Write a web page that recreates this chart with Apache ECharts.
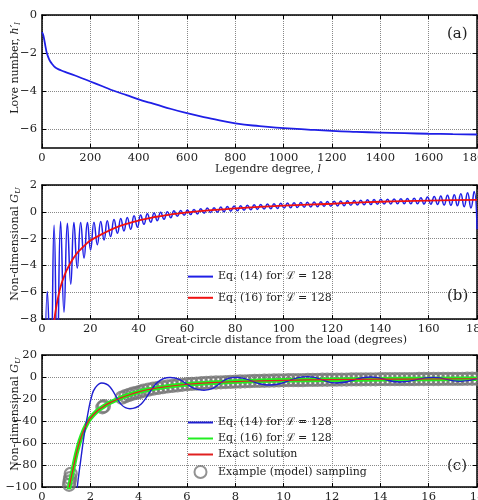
<!DOCTYPE html>
<html>
<head>
<meta charset="utf-8">
<script src="https://cdn.jsdelivr.net/npm/echarts@6/dist/echarts.min.js"></script>
<style>
  html, body { margin: 0; padding: 0; background: #fff; }
  #chart { width: 478px; height: 500px; }
</style>
</head>
<body>
<div id="chart"></div>
<script>
// (a) load Love number against Legendre degree
const loveDegree = [0, 5, 10, 15, 20, 30, 40, 50, 60, 80, 100, 150, 200, 250, 300, 350, 400, 450, 500, 600, 700, 800, 900, 1000, 1100, 1200, 1300, 1400, 1500, 1600, 1700, 1800]
const loveNumber = [-0.9, -1.05, -1.35, -1.7, -2.0, -2.35, -2.55, -2.7, -2.8, -2.92, -3.02, -3.25, -3.5, -3.75, -4.0, -4.22, -4.44, -4.63, -4.82, -5.17, -5.45, -5.7, -5.85, -5.95, -6.03, -6.1, -6.15, -6.19, -6.22, -6.25, -6.27, -6.29]

// (b) Green's function, truncated sum (peaks and troughs) and closed form
const bEq14 = [
  [1.2, -14], [2.2, -5.95], [3.6, -12], [5.0, -1.0], [6.3, -11.5], [7.7, -0.72], [9.1, -7.5],
  [10.5, -0.85], [11.9, -5.4], [13.2, -0.8], [14.6, -4.2], [16.0, -0.8], [17.4, -3.45],
  [18.8, -0.8], [20.1, -2.85], [21.5, -0.78], [22.9, -2.45], [24.3, -0.73], [25.7, -2.1],
  [27.0, -0.66], [28.4, -1.85], [29.8, -0.58], [31.2, -1.6], [32.6, -0.5], [33.9, -1.43],
  [35.3, -0.42], [36.7, -1.3], [38.1, -0.3], [39.5, -1.15], [40.8, -0.23], [42.2, -0.93],
  [43.6, -0.15], [45.0, -0.78], [46.4, -0.09], [47.7, -0.66], [49.1, -0.04], [50.5, -0.55],
  [51.9, 0.01], [53.3, -0.44], [54.6, 0.07], [56.0, -0.34], [57.4, 0.1], [58.8, -0.26],
  [60.2, 0.13], [61.5, -0.21], [62.9, 0.17], [64.3, -0.16], [65.7, 0.23], [67.1, -0.11],
  [68.4, 0.28], [69.8, -0.06], [71.2, 0.31], [72.6, -0.03], [74.0, 0.35], [75.3, 0.01],
  [76.7, 0.39], [78.1, 0.05], [79.5, 0.43], [80.9, 0.08], [82.2, 0.46], [83.6, 0.12],
  [85.0, 0.49], [86.4, 0.15], [87.8, 0.52], [89.1, 0.18], [90.5, 0.55], [91.9, 0.2],
  [93.3, 0.58], [94.7, 0.23], [96.0, 0.6], [97.4, 0.25], [98.8, 0.63], [100.2, 0.28],
  [101.6, 0.65], [102.9, 0.3], [104.3, 0.67], [105.7, 0.32], [107.1, 0.69], [108.5, 0.34],
  [109.8, 0.71], [111.2, 0.36], [112.6, 0.73], [114.0, 0.38], [115.4, 0.75], [116.7, 0.4],
  [118.1, 0.77], [119.5, 0.42], [120.9, 0.79], [122.3, 0.44], [123.6, 0.81], [125.0, 0.46],
  [126.4, 0.83], [127.8, 0.48], [129.2, 0.85], [130.5, 0.5], [131.9, 0.87], [133.3, 0.52],
  [134.7, 0.89], [136.1, 0.54], [137.4, 0.91], [138.8, 0.56], [140.2, 0.93], [141.6, 0.58],
  [143.0, 0.94], [144.3, 0.58], [145.7, 0.96], [147.1, 0.6], [148.5, 0.98], [149.9, 0.6],
  [151.2, 1.0], [152.6, 0.6], [154.0, 1.02], [155.4, 0.6], [156.8, 1.05], [158.1, 0.58],
  [159.5, 1.1], [160.9, 0.57], [162.3, 1.14], [163.7, 0.55], [165.0, 1.18], [166.4, 0.51],
  [167.8, 1.23], [169.2, 0.48], [170.6, 1.28], [171.9, 0.45], [173.3, 1.34], [174.7, 0.38],
  [176.1, 1.43], [177.5, 0.29], [178.8, 1.51], [180, -1.3]
]
const bEq16 = [
  [4.5, -9.3], [5, -8.2], [6, -7.0], [7, -6.1], [8, -5.4], [9, -4.9], [10, -4.45], [12, -3.75],
  [14, -3.2], [16, -2.8], [18, -2.45], [20, -2.15], [25, -1.65], [30, -1.22], [35, -0.9],
  [40, -0.65], [45, -0.45], [50, -0.3], [55, -0.16], [60, -0.05], [70, 0.12], [80, 0.25],
  [90, 0.37], [100, 0.46], [110, 0.53], [120, 0.6], [130, 0.68], [140, 0.75], [150, 0.8],
  [160, 0.84], [170, 0.87], [180, 0.89]
]

// (c) close to the load
const cEq14 = [
  [1.3, -135], [1.45, -102], [1.6, -76], [1.75, -52], [1.9, -33], [2.05, -18], [2.2, -10],
  [2.47, -5.5], [3.64, -28.8], [5.3, -0.5], [6.7, -12], [8.0, -0.3], [9.4, -7.3], [11.0, 0.3],
  [12.2, -5.5], [13.6, 0], [14.8, -4.5], [16.2, -0.3], [17.3, -4], [18, -1.5]
]
const cExact = [
  [1.1, -104], [1.13, -100], [1.3, -82], [1.5, -63], [1.7, -50], [1.85, -43], [2.0, -37.5],
  [2.33, -30], [2.5, -27.5], [2.8, -23.5], [3.16, -20], [3.5, -17], [4.0, -13.5], [4.5, -11],
  [5, -9.2], [6, -6.6], [7, -5.2], [8, -4.2], [9, -3.5], [10, -3.0], [12, -2.4], [14, -2.0],
  [16, -1.8], [18, -1.6]
]
const cSample = [
  [1.12, -98], [1.14, -95], [1.16, -92], [1.19, -88], [2.5, -27.5], [2.56, -26.6],
  [3.3, -18.8], [3.45, -17.5], [3.6, -16.3], [3.75, -15.2], [3.9, -14.4], [4.05, -13.5],
  [4.2, -12.4], [4.4, -11.5], [4.6, -10.6], [4.8, -9.9], [5.0, -9.2], [5.2, -8.6], [5.4, -8.1],
  [5.6, -7.6], [5.8, -7.1], [6.0, -6.6], [6.2, -6.3], [6.4, -6.0], [6.6, -5.7], [6.8, -5.4],
  [7.0, -5.2], [7.2, -5.0], [7.4, -4.8], [7.6, -4.6], [7.8, -4.4], [8.0, -4.2], [8.2, -4.1],
  [8.4, -3.9], [8.6, -3.8], [8.8, -3.6], [9.0, -3.5], [9.2, -3.4], [9.4, -3.3], [9.6, -3.2],
  [9.8, -3.1], [10.0, -3.0], [10.2, -2.9], [10.4, -2.9], [10.6, -2.8], [10.8, -2.8], [11.0, -2.7],
  [11.2, -2.7], [11.4, -2.6], [11.6, -2.5], [11.8, -2.5], [12.0, -2.4], [12.2, -2.4], [12.4, -2.3],
  [12.6, -2.3], [12.8, -2.2], [13.0, -2.2], [13.2, -2.2], [13.4, -2.1], [13.6, -2.1], [13.8, -2.1],
  [14.0, -2.0], [14.2, -2.0], [14.4, -2.0], [14.6, -2.0], [14.8, -1.9], [15.0, -1.9], [15.2, -1.9],
  [15.4, -1.9], [15.6, -1.8], [15.8, -1.8], [16.0, -1.8], [16.2, -1.8], [16.4, -1.8], [16.6, -1.7],
  [16.8, -1.7], [17.0, -1.7], [17.2, -1.7], [17.4, -1.7], [17.6, -1.6], [17.8, -1.6], [18.0, -1.6]
]
const loveTicks = [-6, -4, -2, 0]

const FONT = 'DejaVu Serif'
const INK = '#222'
const nameRich = {
  it: { fontStyle: 'italic', fontFamily: FONT, fontSize: 11, color: INK },
  sub: { fontStyle: 'italic', fontFamily: FONT, fontSize: 8, color: INK, padding: [5, 0, 0, 0] }
}

function fmt (v) {
  return v < 0 ? '\u2212' + (-v) : String(v)
}

function makeAxes (dim, gi, min, max, step, name, pad, extra) {
  const base = {
    gridIndex: gi,
    type: 'value',
    min: min,
    max: max,
    interval: step,
    axisLine: { onZero: false, lineStyle: { color: '#000', width: 1.5 } },
    axisTick: { inside: true, length: 4, lineStyle: { color: '#000' } }
  }
  const main = Object.assign({}, base, {
    position: dim === 'x' ? 'bottom' : 'left',
    axisLabel: { margin: dim === 'x' ? 4 : 5, formatter: fmt, fontFamily: FONT, fontSize: 11.5, color: INK },
    splitLine: { show: true, lineStyle: { color: '#888', type: 'dotted', width: 1 } },
    name: name,
    nameLocation: 'middle',
    nameMoveOverlap: false,
    nameGap: dim === 'x' ? 16 : 20,
    nameTextStyle: {
      fontFamily: FONT, fontSize: 11, color: INK, padding: pad, rich: nameRich,
      verticalAlign: dim === 'x' ? 'top' : 'bottom'
    }
  })
  const mirror = Object.assign({}, base, {
    position: dim === 'x' ? 'top' : 'right',
    axisLabel: { show: false },
    splitLine: { show: false }
  })
  if (extra) {
    main.axisLabel.customValues = extra
    main.axisTick = Object.assign({}, main.axisTick, { customValues: extra })
    mirror.axisTick = Object.assign({}, mirror.axisTick, { customValues: extra })
  }
  return [main, mirror]
}

const chart = echarts.init(document.getElementById('chart'), null, { renderer: 'canvas' })

const namesB = ['Eq. (14) for \u2112 = 128', 'Eq. (16) for \u2112 = 128']
const namesC = ['Eq. (14) for \u2112 = 128\u200B', 'Eq. (16) for \u2112 = 128\u200B', 'Exact solution', 'Example (model) sampling']
const legendText = { fontFamily: FONT, fontSize: 11, color: INK }
const lineOnly = { opacity: 0 }

const gridBase = { containLabel: false, outerBoundsMode: 'none', left: 42, width: 435 }

const option = {
  animation: false,
  backgroundColor: '#fff',
  grid: [
    Object.assign({ top: 15, height: 133 }, gridBase),
    Object.assign({ top: 185, height: 134 }, gridBase),
    Object.assign({ top: 355, height: 132 }, gridBase)
  ],
  xAxis: [].concat(
    makeAxes('x', 0, 0, 1800, 200, 'Legendre degree, {it|l}', [0, 0, 0, 17]),
    makeAxes('x', 1, 0, 180, 20, 'Great-circle distance from the load (degrees)', [0, 0, 0, 43]),
    makeAxes('x', 2, 0, 18, 2, '', [0, 0, 0, 0])
  ),
  yAxis: [].concat(
    makeAxes('y', 0, -7, 0, 1, 'Love number, {it|h\u2032}{sub|l}', [0, 0, 0, 27], loveTicks),
    makeAxes('y', 1, -8, 2, 2, 'Non-dimensional {it|G}{sub|U}', [0, 0, 0, 16]),
    makeAxes('y', 2, -100, 20, 20, 'Non-dimensional {it|G}{sub|U}', [0, 0, 0, 14])
  ),
  legend: [
    {
      data: namesB.map(n => ({ name: n, itemStyle: lineOnly })),
      orient: 'vertical', left: 187, top: 271, padding: 0,
      itemWidth: 25, itemHeight: 14, itemGap: 10, textStyle: legendText
    },
    {
      data: namesC.map((n, i) => (i < 3 ? { name: n, itemStyle: lineOnly } : { name: n })),
      orient: 'vertical', left: 187, top: 417, padding: 0,
      itemWidth: 25, itemHeight: 12, itemGap: 5, textStyle: legendText
    }
  ],
  graphic: [
    { type: 'text', left: 447, top: 27, style: { text: '(a)', font: '15px "DejaVu Serif"', fill: INK } },
    { type: 'text', left: 447, top: 289, style: { text: '(b)', font: '15px "DejaVu Serif"', fill: INK } },
    { type: 'text', left: 447, top: 459, style: { text: '(c)', font: '15px "DejaVu Serif"', fill: INK } }
  ],
  series: [
    {
      name: 'Love number', type: 'line', xAxisIndex: 0, yAxisIndex: 0, smooth: true, symbol: 'none',
      lineStyle: { color: '#1f1fe6', width: 1.8 },
      data: loveDegree.map((d, i) => [d, loveNumber[i]])
    },
    {
      name: namesB[0], type: 'line', xAxisIndex: 2, yAxisIndex: 2, smooth: true, symbol: 'none',
      itemStyle: { color: '#1f1fe6' }, lineStyle: { color: '#1f1fe6', width: 1.5 },
      data: bEq14
    },
    {
      name: namesB[1], type: 'line', xAxisIndex: 2, yAxisIndex: 2, smooth: true, symbol: 'none',
      itemStyle: { color: '#f01010' }, lineStyle: { color: '#f01010', width: 1.8 },
      data: bEq16
    },
    {
      name: namesC[3], type: 'scatter', xAxisIndex: 4, yAxisIndex: 4, symbol: 'circle', symbolSize: 12, z: 1,
      itemStyle: { color: 'rgba(0,0,0,0)', borderColor: '#777', borderWidth: 2.3 },
      data: cSample
    },
    {
      name: namesC[0], type: 'line', xAxisIndex: 4, yAxisIndex: 4, smooth: true, symbol: 'none', z: 3,
      itemStyle: { color: '#1f1fd0' }, lineStyle: { color: '#1f1fd0', width: 1.4 },
      data: cEq14
    },
    {
      name: namesC[1], type: 'line', xAxisIndex: 4, yAxisIndex: 4, smooth: true, symbol: 'none', z: 2,
      itemStyle: { color: '#22ee22' }, lineStyle: { color: '#22ee22', width: 4.5 },
      data: cExact
    },
    {
      name: namesC[2], type: 'line', xAxisIndex: 4, yAxisIndex: 4, smooth: true, symbol: 'none', z: 3,
      itemStyle: { color: '#e02020' }, lineStyle: { color: '#e02020', width: 1.2 },
      data: cExact
    }
  ]
}

chart.setOption(option)
</script>
</body>
</html>
